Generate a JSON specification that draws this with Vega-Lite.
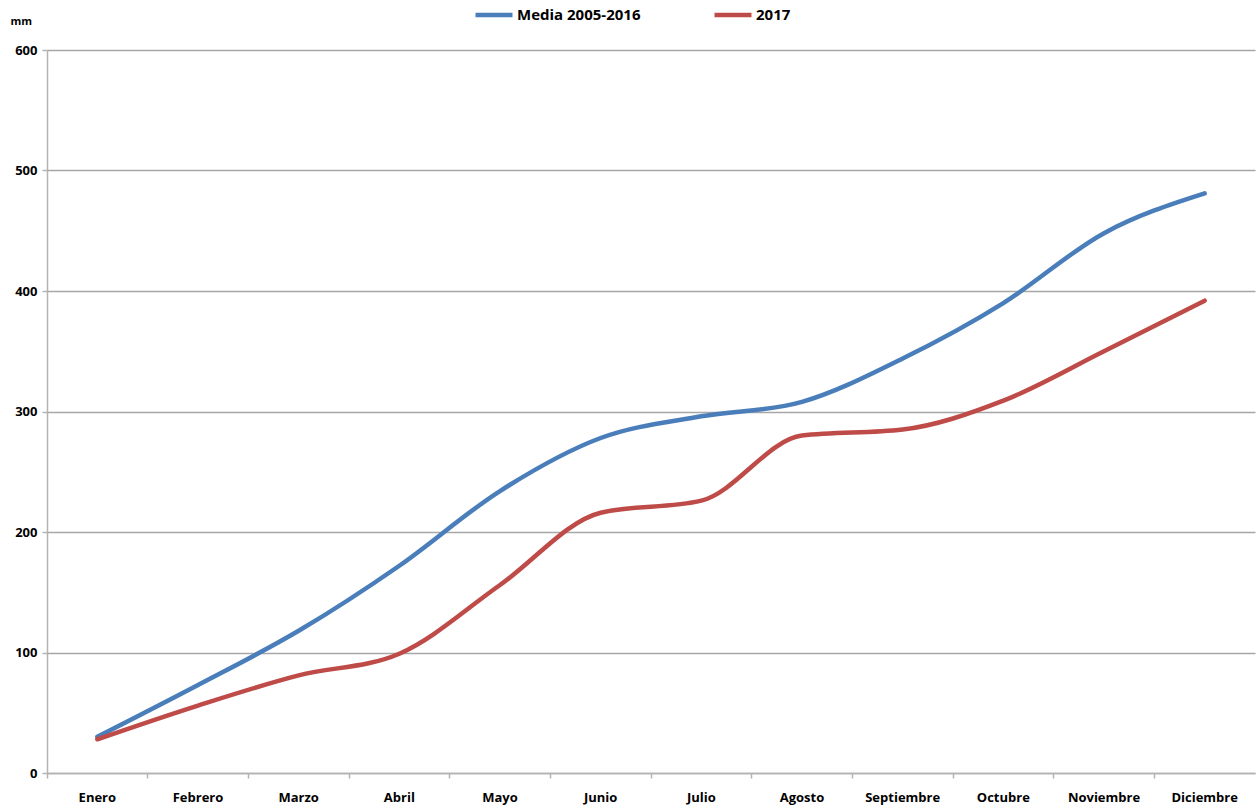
{
  "$schema": "https://vega.github.io/schema/vega-lite/v6.json",
  "width": 1208,
  "height": 723,
  "autosize": {"type": "none"},
  "padding": {"left": 47, "top": 50, "right": 2, "bottom": 36},
  "background": "white",
  "config": {
    "view": {"stroke": null},
    "font": "Open Sans"
  },
  "data": {
    "values": [
      {"mes": "Enero", "serie": "Media 2005-2016", "mm": 30},
      {"mes": "Febrero", "serie": "Media 2005-2016", "mm": 73},
      {"mes": "Marzo", "serie": "Media 2005-2016", "mm": 118},
      {"mes": "Abril", "serie": "Media 2005-2016", "mm": 172},
      {"mes": "Mayo", "serie": "Media 2005-2016", "mm": 234},
      {"mes": "Junio", "serie": "Media 2005-2016", "mm": 278},
      {"mes": "Julio", "serie": "Media 2005-2016", "mm": 296},
      {"mes": "Agosto", "serie": "Media 2005-2016", "mm": 308},
      {"mes": "Septiembre", "serie": "Media 2005-2016", "mm": 344},
      {"mes": "Octubre", "serie": "Media 2005-2016", "mm": 390},
      {"mes": "Noviembre", "serie": "Media 2005-2016", "mm": 448},
      {"mes": "Diciembre", "serie": "Media 2005-2016", "mm": 481},
      {"mes": "Enero", "serie": "2017", "mm": 28},
      {"mes": "Febrero", "serie": "2017", "mm": 56},
      {"mes": "Marzo", "serie": "2017", "mm": 81},
      {"mes": "Abril", "serie": "2017", "mm": 99},
      {"mes": "Mayo", "serie": "2017", "mm": 156},
      {"mes": "Junio", "serie": "2017", "mm": 216},
      {"mes": "Julio", "serie": "2017", "mm": 226},
      {"mes": "Agosto", "serie": "2017", "mm": 280},
      {"mes": "Septiembre", "serie": "2017", "mm": 285},
      {"mes": "Octubre", "serie": "2017", "mm": 309},
      {"mes": "Noviembre", "serie": "2017", "mm": 350},
      {"mes": "Diciembre", "serie": "2017", "mm": 392}
    ]
  },
  "mark": {"type": "line", "interpolate": "monotone", "strokeWidth": 4.5, "strokeCap": "round"},
  "encoding": {
    "x": {
      "field": "mes",
      "type": "nominal",
      "sort": ["Enero", "Febrero", "Marzo", "Abril", "Mayo", "Junio", "Julio", "Agosto", "Septiembre", "Octubre", "Noviembre", "Diciembre"],
      "scale": {"type": "band", "paddingInner": 0, "paddingOuter": 0},
      "axis": {
        "title": null,
        "bandPosition": 0,
        "labelAngle": 0,
        "grid": false,
        "domainColor": "#b3b3b3",
        "domainWidth": 1.5,
        "tickColor": "#b3b3b3",
        "tickWidth": 1.5,
        "tickSize": 5,
        "labelPadding": 13,
        "labelFontSize": 13,
        "labelFontWeight": "bold",
        "labelColor": "black"
      }
    },
    "y": {
      "field": "mm",
      "type": "quantitative",
      "scale": {"domain": [0, 600], "nice": false},
      "axis": {
        "values": [0, 100, 200, 300, 400, 500, 600],
        "title": "mm",
        "titleAngle": 0,
        "titleAlign": "left",
        "titleBaseline": "middle",
        "titleX": -37,
        "titleY": -29,
        "titleFontSize": 11,
        "titleFontWeight": "bold",
        "titleColor": "black",
        "grid": true,
        "gridColor": "#a6a6a6",
        "gridWidth": 1.3,
        "domainColor": "#b3b3b3",
        "domainWidth": 1.5,
        "tickColor": "#b3b3b3",
        "tickWidth": 1.5,
        "tickSize": 5,
        "labelPadding": 5,
        "labelFontSize": 13,
        "labelFontWeight": "bold",
        "labelColor": "black"
      }
    },
    "color": {
      "field": "serie",
      "type": "nominal",
      "scale": {"domain": ["Media 2005-2016", "2017"], "range": ["#4A7EBB", "#BE4B48"]},
      "legend": {
        "title": null,
        "orient": "none",
        "direction": "horizontal",
        "legendX": 426,
        "legendY": -56,
        "symbolType": "stroke",
        "symbolSize": 1369,
        "symbolStrokeWidth": 4.5,
        "labelFontSize": 15,
        "labelFontWeight": "bold",
        "labelColor": "black",
        "labelOffset": 2,
        "columnPadding": 64
      }
    }
  }
}
